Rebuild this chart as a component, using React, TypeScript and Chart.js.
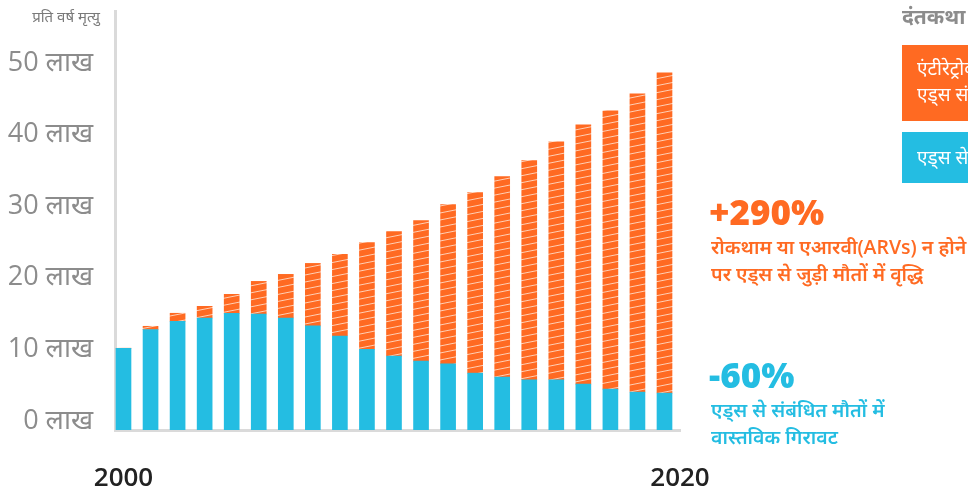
import React, { useEffect, useRef } from "react";
import { Chart, registerables } from "chart.js";

Chart.register(...registerables);

// ---- data (values in lakh deaths per year) ----
const years = [2000, 2001, 2002, 2003, 2004, 2005, 2006, 2007, 2008, 2009, 2010, 2011, 2012, 2013, 2014, 2015, 2016, 2017, 2018, 2019, 2020];
const actualDeaths = [11.42, 14.03, 15.18, 15.64, 16.3, 16.2, 15.64, 14.53, 13.13, 11.28, 10.31, 9.61, 9.23, 7.94, 7.38, 7.01, 7.01, 6.41, 5.71, 5.29, 5.15];
const avertedDeaths = [0, 0.45, 1.12, 1.63, 2.64, 4.55, 6.09, 8.73, 11.38, 14.9, 17.41, 19.64, 22.25, 25.21, 28.0, 30.59, 33.24, 36.21, 38.86, 41.65, 44.71];
const yTickValues = [0, 10, 20, 30, 40, 50];
const yTickSuffix = " लाख";
const xTickLabels = ["2000", "2020"];

const ORANGE = "#FF6A22";
const BLUE = "#24BDE2";
const AXIS_GRAY = "#DADADA";
const TEXT_GRAY = "#8C8C8C";
const FONT = "'Open Sans', 'Noto Sans', sans-serif";

function makeStripePattern(): CanvasPattern | string {
  const c = document.createElement("canvas");
  c.width = 35;
  c.height = 7;
  const ctx = c.getContext("2d");
  if (!ctx) return ORANGE;
  ctx.fillStyle = ORANGE;
  ctx.fillRect(0, 0, 35, 7);
  ctx.strokeStyle = "rgba(255,225,205,0.85)";
  ctx.lineWidth = 1;
  for (let k = -1; k <= 1; k++) {
    ctx.beginPath();
    ctx.moveTo(0, 7 + k * 7);
    ctx.lineTo(35, 0 + k * 7);
    ctx.stroke();
  }
  const p = ctx.createPattern(c, "repeat");
  return p || ORANGE;
}

function ChartCanvas() {
  const ref = useRef<HTMLCanvasElement | null>(null);
  useEffect(() => {
    if (!ref.current) return;
    const pattern = makeStripePattern();
    const chart = new Chart(ref.current, {
      type: "bar",
      data: {
        datasets: [
          {
            label: "एड्स से संबंधित मौतें",
            data: years.map((y, i) => ({ x: y, y: actualDeaths[i] })),
            backgroundColor: BLUE,
            barThickness: 15,
            borderWidth: 0,
          },
          {
            label: "एंटीरेट्रोवायरल थेरेपी के बिना एड्स संबंधित मौतें",
            data: years.map((y, i) => ({ x: y, y: avertedDeaths[i] })),
            backgroundColor: pattern as any,
            barThickness: 15,
            borderWidth: 0,
          },
        ],
      },
      options: {
        animation: false,
        responsive: false,
        maintainAspectRatio: false,
        layout: { padding: { left: 0, top: 11, right: 288, bottom: 0 } },
        plugins: {
          legend: { display: false },
          tooltip: { enabled: false },
        },
        scales: {
          x: {
            type: "linear",
            stacked: true,
            offset: false,
            bounds: "data",
            min: 1999.686,
            max: 2020.573,
            grid: { display: false, drawTicks: false, offset: false },
            border: { display: true, color: AXIS_GRAY, width: 3 },
            afterBuildTicks: (s: any) => {
              s.ticks = [{ value: years[0] }, { value: s.max }];
            },
            afterFit: (s: any) => {
              s.height = 61;
              s.paddingLeft = 0;
              s.paddingRight = 0;
            },
            ticks: {
              autoSkip: false,
              maxRotation: 0,
              padding: 33,
              color: "#222222",
              font: { family: FONT, size: 26, weight: 600 },
              callback: (_v: any, i: number) => xTickLabels[i],
            },
          },
          y: {
            stacked: true,
            min: 0,
            max: 58.5,
            grid: { display: false, drawTicks: false },
            border: { display: true, color: AXIS_GRAY, width: 3 },
            afterBuildTicks: (s: any) => {
              s.ticks = yTickValues.map((v) => ({ value: v }));
            },
            afterFit: (s: any) => {
              s.width = 115;
              s.paddingTop = 0;
              s.paddingBottom = 0;
            },
            ticks: {
              padding: 22,
              labelOffset: -9,
              color: TEXT_GRAY,
              font: { family: FONT, size: 27 },
              callback: (v: any) => `${v}${yTickSuffix}`,
            },
          },
        },
      },
    });
    return () => chart.destroy();
  }, []);
  return <canvas ref={ref} width={968} height={491} style={{ display: "block", position: "absolute", left: 0, top: 0 }} />;
}

export default function App() {
  const abs = (o: React.CSSProperties): React.CSSProperties => ({ position: "absolute", whiteSpace: "nowrap", ...o });
  return (
    <div
      style={{
        position: "fixed",
        left: 0,
        top: 0,
        width: 968,
        height: 491,
        overflow: "hidden",
        background: "#ffffff",
        fontFamily: FONT,
      }}
    >
      <ChartCanvas />
      {/* y axis title */}
      <div style={abs({ right: 968 - 100, top: 6, fontSize: 15, color: "#7a7a7a" })}>प्रति वर्ष मृत्यु</div>

      {/* legend */}
      <div style={abs({ left: 902, top: 2, fontSize: 21, fontWeight: 700, color: TEXT_GRAY })}>दंतकथा</div>
      <div style={abs({ left: 902, top: 45, width: 260, height: 76, background: ORANGE, color: "#fff", fontSize: 19, lineHeight: "26px", padding: "10px 0 0 15px", boxSizing: "border-box" })}>
        एंटीरेट्रोवायरल थेरेपी के बिना
        <br />
        एड्स संबंधित मौतें
      </div>
      <div style={abs({ left: 902, top: 132, width: 260, height: 51, background: BLUE, color: "#fff", fontSize: 19, lineHeight: "26px", padding: "12px 0 0 15px", boxSizing: "border-box" })}>
        एड्स से संबंधित मौतें
      </div>

      {/* annotations */}
      <div style={abs({ left: 709, top: 192, fontSize: 35, fontWeight: 800, color: ORANGE, lineHeight: "40px" })}>+290%</div>
      <div style={abs({ left: 711, top: 233, fontSize: 19.5, fontWeight: 600, color: ORANGE, lineHeight: "27px" })}>
        रोकथाम या एआरवी(ARVs) न होने
        <br />
        पर एड्स से जुड़ी मौतों में वृद्धि
      </div>
      <div style={abs({ left: 709, top: 355, fontSize: 35, fontWeight: 800, color: BLUE, lineHeight: "40px" })}>-60%</div>
      <div style={abs({ left: 711, top: 396, fontSize: 19.5, fontWeight: 600, color: BLUE, lineHeight: "27px" })}>
        एड्स से संबंधित मौतों में
        <br />
        वास्तविक गिरावट
      </div>
    </div>
  );
}
